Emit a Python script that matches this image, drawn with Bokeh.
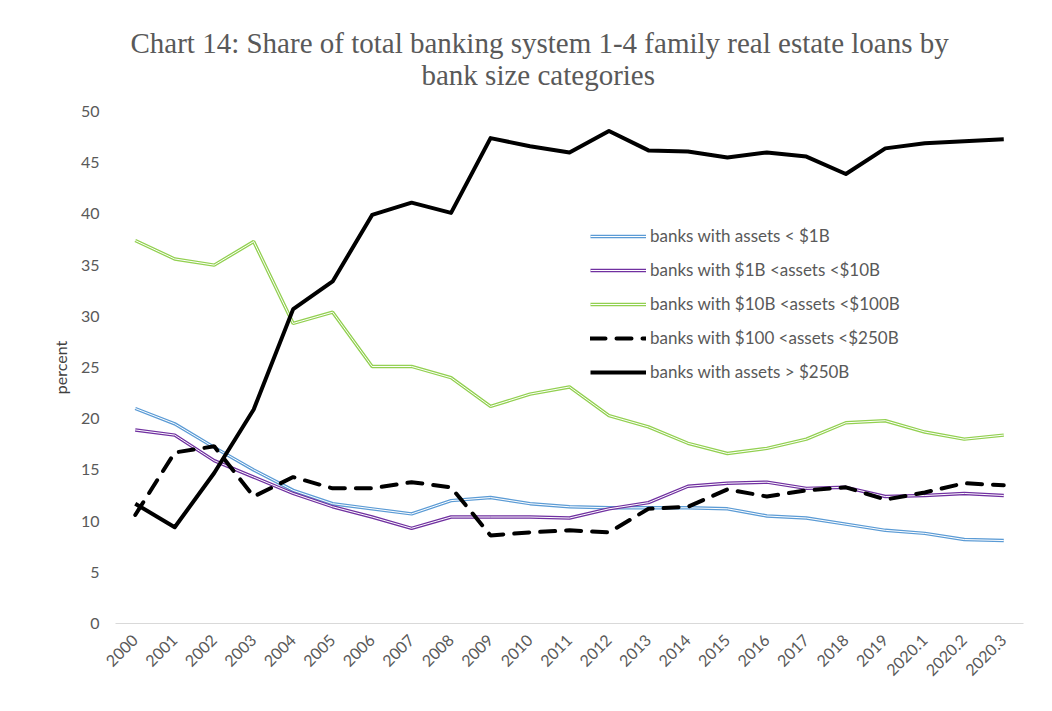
from bokeh.plotting import figure
from bokeh.models import FactorRange, Range1d, FixedTicker, Legend, LegendItem, Title
from bokeh.embed import file_html
from bokeh.resources import INLINE
import math

periods = ["2000", "2001", "2002", "2003", "2004", "2005", "2006", "2007", "2008",
           "2009", "2010", "2011", "2012", "2013", "2014", "2015", "2016", "2017",
           "2018", "2019", "2020.1", "2020.2", "2020.3"]

lt_1b = [21.0, 19.5, 17.2, 15.0, 13.0, 11.7, 11.2, 10.7, 12.0, 12.3, 11.7, 11.4,
         11.3, 11.3, 11.3, 11.2, 10.5, 10.3, 9.7, 9.1, 8.8, 8.2, 8.1]
b1_10 = [18.9, 18.4, 15.9, 14.3, 12.7, 11.4, 10.4, 9.3, 10.4, 10.4, 10.4, 10.3,
         11.2, 11.8, 13.4, 13.7, 13.8, 13.2, 13.3, 12.4, 12.5, 12.7, 12.5]
b10_100 = [37.4, 35.6, 35.0, 37.3, 29.3, 30.4, 25.1, 25.1, 24.0, 21.2, 22.4, 23.1,
           20.3, 19.2, 17.6, 16.6, 17.1, 18.0, 19.6, 19.8, 18.7, 18.0, 18.4]
b100_250 = [10.6, 16.7, 17.3, 12.4, 14.3, 13.2, 13.2, 13.8, 13.3, 8.6, 8.9, 9.1,
            8.9, 11.2, 11.4, 13.1, 12.4, 13.0, 13.3, 12.1, 12.8, 13.7, 13.5]
gt_250 = [11.7, 9.4, 14.7, 20.9, 30.7, 33.4, 39.9, 41.1, 40.1, 47.4, 46.6, 46.0,
          48.1, 46.2, 46.1, 45.5, 46.0, 45.6, 43.9, 46.4, 46.9, 47.1, 47.3]

series_names = ["banks with assets < $1B", "banks with $1B <assets <$10B",
                "banks with $10B <assets <$100B", "banks with $100 <assets <$250B",
                "banks with assets > $250B"]
y_ticks = [0, 5, 10, 15, 20, 25, 30, 35, 40, 45, 50]
title_lines = ["Chart 14: Share of total banking system 1-4 family real estate loans by",
               "bank size categories"]

FONT = "Lato"
GRAY = "#595959"

p = figure(width=1036, height=695, output_backend="svg", toolbar_location=None,
           x_range=FactorRange(*periods, range_padding=0), y_range=Range1d(0, 50),
           min_border_left=115, min_border_right=13, min_border_top=111,
           min_border_bottom=72)
p.outline_line_color = None
p.xgrid.grid_line_color = None
p.ygrid.grid_line_color = None

# axes
p.xaxis.axis_line_color = "#d9d9d9"
p.xaxis.axis_line_width = 1
p.xaxis.major_tick_line_color = None
p.xaxis.minor_tick_line_color = None
p.xaxis.major_label_orientation = math.pi / 4
p.xaxis.major_label_text_font = FONT
p.xaxis.major_label_text_font_size = "16px"
p.xaxis.major_label_text_color = GRAY
p.xaxis.major_label_standoff = 8

p.yaxis.axis_line_color = None
p.yaxis.major_tick_line_color = None
p.yaxis.minor_tick_line_color = None
p.yaxis.ticker = FixedTicker(ticks=y_ticks)
p.yaxis.major_label_text_font = FONT
p.yaxis.major_label_text_font_size = "16px"
p.yaxis.major_label_text_color = GRAY
p.yaxis.major_label_standoff = 10
p.yaxis.axis_label = "percent"
p.yaxis.axis_label_text_font = FONT
p.yaxis.axis_label_text_font_size = "16px"
p.yaxis.axis_label_text_font_style = "normal"
p.yaxis.axis_label_text_color = "#404040"
p.yaxis.axis_label_standoff = 8

items = []
# double (compound) lines
for vals, color, name in [(lt_1b, "#5B9BD5", series_names[0]),
                          (b1_10, "#7030A0", series_names[1]),
                          (b10_100, "#92D050", series_names[2])]:
    outer = p.line(periods, vals, line_color=color, line_width=3.4)
    inner = p.line(periods, vals, line_color="white", line_width=1.0)
    items.append(LegendItem(label=name, renderers=[outer, inner]))

dashed = p.line(periods, b100_250, line_color="black", line_width=4,
                line_dash="15 11", line_cap="round")
items.append(LegendItem(label=series_names[3], renderers=[dashed]))
solid = p.line(periods, gt_250, line_color="black", line_width=4, line_join="round")
items.append(LegendItem(label=series_names[4], renderers=[solid]))

legend = Legend(items=items, location=(475, 241), orientation="vertical",
                border_line_color=None, background_fill_alpha=0,
                padding=0, margin=0, spacing=13, glyph_width=56, glyph_height=20,
                label_standoff=4, label_text_font=FONT, label_text_font_size="17px",
                label_text_color=GRAY, label_height=20)
p.add_layout(legend, "center")

# second line is nearest the plot, first line above it
p.add_layout(Title(text=title_lines[1], align="left", offset=306,
                   text_font="Liberation Serif", text_font_size="29px",
                   text_font_style="normal", text_color=GRAY, standoff=42), "above")
p.add_layout(Title(text=title_lines[0], align="left", offset=15,
                   text_font="Liberation Serif", text_font_size="29px",
                   text_font_style="normal", text_color=GRAY, standoff=-46), "above")

open("out.html", "w").write(file_html(p, INLINE))
